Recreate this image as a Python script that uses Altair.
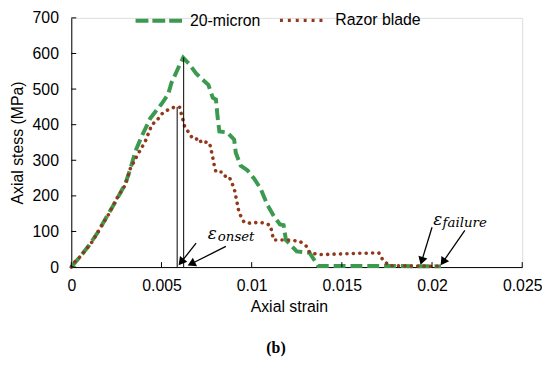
import math
import altair as alt
import pandas as pd

# ---- data ----
green_strain = [0, 0.0005, 0.001, 0.0015, 0.002, 0.0025, 0.003, 0.0033, 0.00355, 0.0039,
                0.00437, 0.00464, 0.005, 0.00537, 0.00555, 0.006, 0.0062, 0.00656, 0.00692,
                0.0072, 0.0076, 0.00784, 0.00802, 0.00811, 0.00821, 0.00866, 0.00903, 0.00912,
                0.00939, 0.00976, 0.01013, 0.01049, 0.01086, 0.01124, 0.01157, 0.01177, 0.0119,
                0.0125, 0.01321, 0.01369, 0.0175, 0.0205]
green_stress = [0, 30, 62, 100, 145, 188, 235, 280, 325, 367,
                417, 435, 458, 485, 517, 567, 588, 569, 544,
                530, 512, 476, 471, 422, 381, 378, 358, 321,
                285, 272, 249, 221, 176, 142, 120, 118, 76,
                44, 40, 3, 3, 2]

red_strain = [0, 0.00016, 0.00053, 0.00117, 0.00163, 0.00208, 0.00254, 0.003, 0.00327, 0.00364,
              0.0041, 0.00446, 0.00482, 0.0051, 0.00547, 0.00574, 0.00601, 0.0061, 0.0062,
              0.00629, 0.00647, 0.00665, 0.00684, 0.00711, 0.0072, 0.00747, 0.00766, 0.00775,
              0.00784, 0.00793, 0.00802, 0.00839, 0.00857, 0.00876, 0.00903, 0.00912, 0.00921,
              0.0093, 0.00958, 0.00994, 0.0104, 0.01076, 0.01104, 0.01113, 0.01122, 0.01158,
              0.01213, 0.01268, 0.01305, 0.01323, 0.01378, 0.0155, 0.01705, 0.01725, 0.01762,
              0.019, 0.0205]
red_stress = [0, 13, 31, 72, 112, 149, 194, 231, 276, 312,
              353, 399, 417, 435, 444, 450, 449, 430, 412,
              394, 381, 367, 358, 362, 349, 351, 349, 330,
              308, 285, 267, 267, 253, 253, 221, 199, 176,
              153, 126, 123, 126, 123, 117, 95, 76, 76,
              76, 72, 58, 40, 35, 38, 40, 22, 4,
              3, 2]

series_names = ["20-micron", "Razor blade"]

# onset markers (vertical lines from the peaks)
onset_strain = [0.00587, 0.00623]
onset_stress = [450, 589]

# annotation arrows: start -> tip
arrow_s0 = [0.00692, 0.00857, 0.0200, 0.02182]
arrow_v0 = [67, 58, 112, 103]
arrow_s1 = [0.00592, 0.00641, 0.01935, 0.02045]
arrow_v1 = [3, 3, 4, 3]

label_eps_s = [0.00757, 0.02007]
label_eps_v = [93, 133]
label_sub_s = [0.00812, 0.02058]
label_sub_v = [84, 125]
label_sub_text = ["onset", "failure"]

x_ticks = [0, 0.005, 0.01, 0.015, 0.02, 0.025]
y_ticks = [0, 100, 200, 300, 400, 500, 600, 700]

W, H = 456, 252
XMAX, YMAX = 0.025, 700
GREEN = "#3c9a50"
RED = "#92391c"

green_df = pd.DataFrame({"strain": green_strain, "stress": green_stress, "series": series_names[0]})
red_df = pd.DataFrame({"strain": red_strain, "stress": red_stress, "series": series_names[1]})

xs = alt.Scale(domain=[0, XMAX], nice=False, zero=True)
ys = alt.Scale(domain=[0, YMAX], nice=False, zero=True)

FONT = "Liberation Sans, Arial, sans-serif"
FS = 16

x_axis = alt.Axis(
    values=x_ticks, format="~g", title="Axial strain", grid=False, ticks=False,
    domainColor="black", domainWidth=1, labelFont=FONT, labelFontSize=FS,
    labelColor="black", labelPadding=11, titleFont=FONT, titleFontSize=FS,
    titleFontWeight="normal", titleColor="black", titlePadding=5, titleX=220,
    labelFlush=False, labelOverlap=False)
y_axis = alt.Axis(
    values=y_ticks, title="Axial stess (MPa)", grid=False, ticks=False,
    domainColor="black", domainWidth=1, labelFont=FONT, labelFontSize=FS,
    labelColor="black", labelPadding=13, titleFont=FONT, titleFontSize=FS,
    titleFontWeight="normal", titleColor="black", titlePadding=7,
    labelOverlap=False, labelFlush=False)

X = alt.X("strain:Q", scale=xs, axis=x_axis)
Y = alt.Y("stress:Q", scale=ys, axis=y_axis)

green_line = alt.Chart(green_df).mark_line(
    strokeWidth=4, strokeDash=[12, 5], strokeCap="butt", interpolate="linear"
).encode(
    x=X, y=Y,
    color=alt.Color("series:N", scale=alt.Scale(domain=[series_names[0]], range=[GREEN]),
                    legend=alt.Legend(orient="none", legendX=63, legendY=-22.5, title=None,
                                      symbolType="stroke", symbolSize=2209, symbolStrokeWidth=4,
                                      symbolDash=[13, 4], labelFont=FONT, labelFontSize=FS,
                                      labelColor="black", labelOffset=6, padding=0))
)

red_line = alt.Chart(red_df).mark_line(
    strokeWidth=3.6, strokeDash=[0.1, 6.4], strokeCap="round", interpolate="linear"
).encode(
    x=X, y=Y,
    color=alt.Color("series:N", scale=alt.Scale(domain=[series_names[1]], range=[RED]),
                    legend=alt.Legend(orient="none", legendX=209, legendY=-22.5, title=None,
                                      symbolType="stroke", symbolSize=2116, symbolStrokeWidth=3.4,
                                      symbolDash=[3, 5], labelFont=FONT, labelFontSize=FS,
                                      labelColor="black", labelOffset=8, padding=0))
)

onset_df = pd.DataFrame({"strain": onset_strain, "stress": [0] * len(onset_strain),
                         "stress2": onset_stress})
onset_rules = alt.Chart(onset_df).mark_rule(color="black", strokeWidth=1).encode(
    x=X, y=Y, y2="stress2:Q")

# tick marks pointing inwards
xt_df = pd.DataFrame({"strain": x_ticks, "stress": [0] * len(x_ticks)})
x_tick_marks = alt.Chart(xt_df).mark_rule(color="black", strokeWidth=1, y2Offset=-5).encode(
    x=X, y=Y, y2="stress:Q")
yt_df = pd.DataFrame({"stress": y_ticks, "strain": [0] * len(y_ticks)})
y_tick_marks = alt.Chart(yt_df).mark_rule(color="black", strokeWidth=1, x2Offset=5).encode(
    y=Y, x=X, x2="strain:Q")

# arrows
px_per_s = W / XMAX
px_per_v = H / YMAX
angles, head_s, head_v = [], [], []
for s0, v0, s1, v1 in zip(arrow_s0, arrow_v0, arrow_s1, arrow_v1):
    dx = (s1 - s0) * px_per_s
    dy = -(v1 - v0) * px_per_v
    L = math.hypot(dx, dy)
    ux, uy = dx / L, dy / L
    ang = math.degrees(math.atan2(dx, -dy)) % 360
    angles.append(ang)
    back = 5
    head_s.append(s1 - ux * back / px_per_s)
    head_v.append(v1 + uy * back / px_per_v)

arrow_df = pd.DataFrame({"strain": arrow_s0, "stress": arrow_v0, "strain2": head_s, "stress2": head_v})
arrow_lines = alt.Chart(arrow_df).mark_rule(color="black", strokeWidth=1.3).encode(
    x=X, y=Y, x2="strain2:Q", y2="stress2:Q")
head_df = pd.DataFrame({"strain": head_s, "stress": head_v, "a": angles})
arrow_heads = alt.Chart(head_df).mark_point(
    shape="triangle-up", filled=True, color="black", size=90, opacity=1, strokeWidth=0
).encode(x=X, y=Y, angle=alt.Angle("a:Q", scale=None))

eps_df = pd.DataFrame({"strain": label_eps_s, "stress": label_eps_v, "t": ["ε", "ε"]})
eps_text = alt.Chart(eps_df).mark_text(
    font="DejaVu Serif", fontSize=17, fontStyle="italic", align="left", baseline="middle",
    color="black").encode(x=X, y=Y, text="t:N")
sub_df = pd.DataFrame({"strain": label_sub_s, "stress": label_sub_v, "t": label_sub_text})
sub_text = alt.Chart(sub_df).mark_text(
    font="DejaVu Serif", fontSize=13.5, fontStyle="italic", align="left", baseline="middle",
    color="black").encode(x=X, y=Y, text="t:N")

chart = alt.layer(
    green_line, red_line, onset_rules, x_tick_marks, y_tick_marks,
    arrow_lines, arrow_heads, eps_text, sub_text
).resolve_scale(color="independent").properties(
    width=W, height=H,
    title=alt.TitleParams("(b)", orient="bottom", font="Liberation Serif", fontSize=16,
                          fontWeight="bold", color="black", dx=-21, offset=26, anchor="middle"),
    autosize=alt.AutoSizeParams(type="none"),
    padding={"left": 64, "top": 8, "right": 20, "bottom": 94},
).configure_view(stroke=None).configure(background="white").configure_axis(labelOverlap=False)

chart.save("out.html", embed_options={"renderer": "svg", "actions": False})
